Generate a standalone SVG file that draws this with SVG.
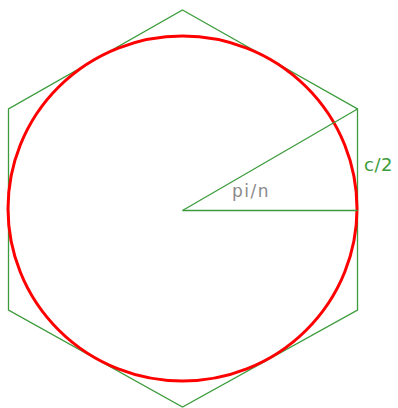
<svg xmlns="http://www.w3.org/2000/svg" width="398" height="408" viewBox="0 0 398 408">
<style>
.g{fill:none;stroke:#3c9c3c;stroke-width:1.3}
.r{fill:none;stroke:#ff0000;stroke-width:3}
.t{font-family:"DejaVu Sans",sans-serif;font-size:17px;letter-spacing:1.5px}
.c{font-size:18px;letter-spacing:0.5px}
</style>
<rect width="398" height="408" fill="#ffffff"/>
<g id="hexagon"><polygon class="g" points="182.5,10 357.5,109 357.5,310 182.5,407 8.5,310 8.5,109"/></g>
<g id="circle"><ellipse class="r" cx="182.5" cy="208.5" rx="174.5" ry="172.5"/></g>
<g id="connectors">
<line class="g" x1="182.5" y1="210.5" x2="357.5" y2="210.5"/>
<line class="g" x1="182.5" y1="210.5" x2="357.5" y2="109"/>
</g>
<g id="labels">
<text class="t" x="232" y="197" fill="#8a8a8a">pi/n</text>
<text class="t c" x="364" y="171" fill="#3c9c3c">c/2</text>
</g>
</svg>
